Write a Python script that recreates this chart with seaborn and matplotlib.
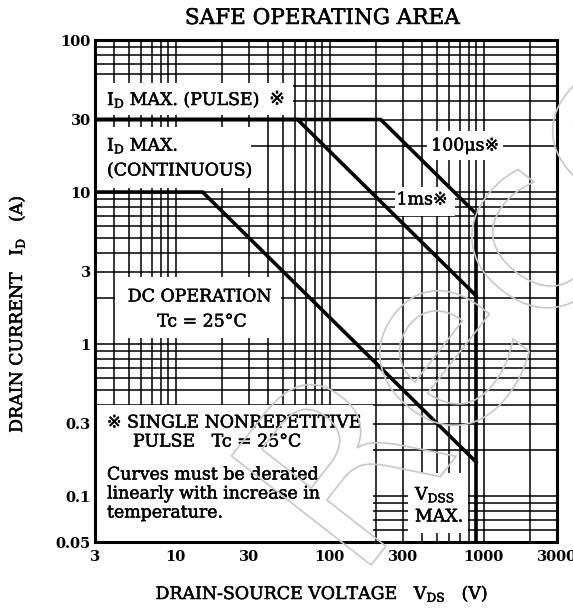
import numpy as np
import pandas as pd
import matplotlib
matplotlib.use("Agg")
import matplotlib.pyplot as plt
import seaborn as sns
from matplotlib.patches import Rectangle
from matplotlib.ticker import LogLocator, NullFormatter, FixedLocator, FixedFormatter
import matplotlib.patheffects as pe

# ---------------- data ----------------
vds_100us = [3, 215, 900]
id_100us = [30, 30, 7.17]
vds_1ms = [3, 62, 900]
id_1ms = [30, 30, 2.07]
vds_dc = [3, 15, 900]
id_dc = [10, 10, 0.167]
vds_vdss = [900, 900]
id_vdss = [7.17, 0.05]

x_ticks = [3, 10, 30, 100, 300, 1000, 3000]
x_tick_labels = ["3", "10", "30", "100", "300", "1000", "3000"]
y_ticks = [0.05, 0.1, 0.3, 1, 3, 10, 30, 100]
y_tick_labels = ["0.05", "0.1", "0.3", "1", "3", "10", "30", "100"]

sns.set_theme(style="white")
plt.rcParams["font.family"] = ["DejaVu Serif", "DejaVu Sans", "Noto Sans CJK JP"]
plt.rcParams["mathtext.fontset"] = "dejavuserif"
for k in ("text.color", "xtick.color", "ytick.color", "axes.labelcolor"):
    plt.rcParams[k] = "black"

W, H = 573, 609
L, R, T, B = 95, 557, 40, 542
fig = plt.figure(figsize=(W / 100, H / 100), dpi=100)
fig.patch.set_facecolor("white")
ax = fig.add_axes([L / W, 1 - B / H, (R - L) / W, (B - T) / H])
ax.set_xscale("log")
ax.set_yscale("log")

frames = []
for name, xs, ys in [("100us", vds_100us, id_100us), ("1ms", vds_1ms, id_1ms),
                     ("dc", vds_dc, id_dc), ("vdss", vds_vdss, id_vdss)]:
    frames.append(pd.DataFrame({"vds": xs, "id": ys, "curve": name}))
df = pd.concat(frames, ignore_index=True)
for name, sub in df.groupby("curve", sort=False):
    sns.lineplot(data=sub, x="vds", y="id", ax=ax, color="black", lw=2.6,
                 sort=False, estimator=None, zorder=5, legend=False,
                 solid_joinstyle="miter")

ax.set_xlim(3, 3000)
ax.set_ylim(0.05, 100)
ax.xaxis.set_major_locator(FixedLocator(x_ticks))
ax.xaxis.set_major_formatter(FixedFormatter(x_tick_labels))
ax.yaxis.set_major_locator(FixedLocator(y_ticks))
ax.yaxis.set_major_formatter(FixedFormatter(y_tick_labels))
for a in (ax.xaxis, ax.yaxis):
    a.set_minor_locator(LogLocator(base=10, subs=np.arange(1, 10), numticks=100))
    a.set_minor_formatter(NullFormatter())
ax.set_axisbelow(True)
ax.grid(which="both", color="black", lw=1.1)
ax.tick_params(which="both", length=0)
ax.tick_params(axis="x", pad=6, labelsize=10.5)
ax.tick_params(axis="y", pad=3, labelsize=10.5)
for lab in ax.get_xticklabels() + ax.get_yticklabels():
    lab.set_fontweight("bold")
for s in ax.spines.values():
    s.set_color("black")
    s.set_linewidth(2.2)
ax.set_xlabel("")
ax.set_ylabel("")

def ax_pt(px, py):
    return (px - L) / (R - L), (B - py) / (B - T)

def mask(x0, y0, x1, y1):
    ax0, ay1 = ax_pt(x0, y0)
    ax1, ay0 = ax_pt(x1, y1)
    ax.add_patch(Rectangle((ax0, ay0), ax1 - ax0, ay1 - ay0, transform=ax.transAxes,
                           facecolor="white", edgecolor="none", zorder=2))

mask(96, 83, 293, 115)
mask(96, 127, 251, 188)
mask(427, 131, 503, 160)
mask(395, 187, 455, 216)
mask(115, 277, 281, 338)
mask(96, 405, 373, 541)
mask(408, 473, 468, 533)

heavy = [pe.withStroke(linewidth=0.35, foreground="black")]

def txt(px, py, s, ha="left", size=12.5, **kw):
    x, y = ax_pt(px, py)
    ax.text(x, y, s, transform=ax.transAxes, ha=ha, va="center", fontsize=size,
            color="black", zorder=6, path_effects=heavy, **kw)

txt(107, 100, r"I$_\mathrm{D}$ MAX. (PULSE)")
txt(277, 99, "※", ha="center", size=13.5, family=["DejaVu Sans", "Noto Sans CJK JP"])
txt(107, 146, r"I$_\mathrm{D}$ MAX.")
txt(107, 171, "(CONTINUOUS)")
txt(465, 146, "100μs※", ha="center")
txt(422, 200, "1ms※", ha="center")
txt(200, 297, "DC OPERATION", ha="center")
txt(202, 322, "Tc = 25°C", ha="center")
txt(107, 423, "※ SINGLE NONREPETITIVE")
txt(133, 442, "PULSE   Tc = 25°C")
txt(107, 475, "Curves must be derated")
txt(107, 494, "linearly with increase in")
txt(107, 513, "temperature.")
txt(415, 495, r"V$_\mathrm{DSS}$")
txt(415, 517, "MAX.")

fig.text(322 / W, 1 - 18 / H, "SAFE OPERATING AREA", ha="center", va="center",
         fontsize=15.5, path_effects=heavy)
fig.text(322 / W, 1 - 594 / H, r"DRAIN-SOURCE VOLTAGE   V$_\mathrm{DS}$   (V)",
         ha="center", va="center", fontsize=12.5, path_effects=heavy)
fig.text(17 / W, 1 - 314 / H, r"DRAIN CURRENT   I$_\mathrm{D}$   (A)",
         ha="center", va="center", fontsize=12.5, rotation=90, path_effects=heavy)

# faint outlined watermark
fig.text(558 / W, 1 - 217 / H, "Recom", ha="center", va="center", fontsize=175,
         rotation=52, color="none", family="DejaVu Sans", zorder=10,
         path_effects=[pe.withStroke(linewidth=1.2, foreground="#c8c8c8")])

fig.savefig("out.png", dpi=100, facecolor="white")
